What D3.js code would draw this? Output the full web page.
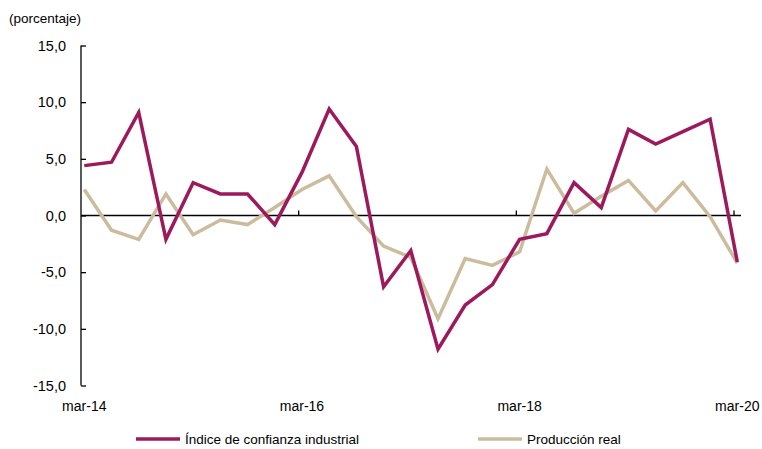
<!DOCTYPE html>
<html>
<head>
<meta charset="utf-8">
<script src="https://cdn.jsdelivr.net/npm/d3@7"></script>
<style>
  body { margin: 0; background: #fff; }
  svg text { font-family: "Liberation Sans", Arial, sans-serif; fill: #000; }
</style>
</head>
<body>
<div id="chart"></div>
<script>
// quarterly, mar-14 .. mar-20
var periods = ["mar-14","jun-14","sep-14","dic-14","mar-15","jun-15","sep-15","dic-15",
               "mar-16","jun-16","sep-16","dic-16","mar-17","jun-17","sep-17","dic-17",
               "mar-18","jun-18","sep-18","dic-18","mar-19","jun-19","sep-19","dic-19","mar-20"];
var confianza = [4.4, 4.7, 9.1, -2.1, 2.9, 1.9, 1.9, -0.8,
                 3.8, 9.4, 6.1, -6.3, -3.1, -11.8, -7.9, -6.1,
                 -2.1, -1.6, 2.9, 0.7, 7.6, 6.3, 7.4, 8.5, -4.1];
var produccion = [2.3, -1.3, -2.1, 1.9, -1.7, -0.4, -0.8, 0.7,
                  2.3, 3.5, -0.1, -2.7, -3.7, -9.1, -3.8, -4.4,
                  -3.2, 4.1, 0.2, 1.7, 3.1, 0.4, 2.9, -0.1, -4.2];
var yTicks = [-15, -10, -5, 0, 5, 10, 15];
var xLabelIdx = [0, 8, 16, 24];
var seriesNames = ["Índice de confianza industrial", "Producción real"];
var colors = ["#9c1a5c", "#cbbc9e"];

var width = 762, height = 449;
var svg = d3.select("#chart").append("svg")
    .attr("width", width)
    .attr("height", height);

var x = d3.scaleLinear().domain([0, periods.length - 1]).range([84.3, 737.3]);
var y = d3.scaleLinear().domain([-15, 15]).range([385.5, 45.5]);
var axisX = 81;

// y axis, ticks pointing inwards
var gy = svg.append("g").attr("transform", "translate(" + axisX + ",0)")
  .call(d3.axisRight(y).tickValues(yTicks).tickSize(5).tickFormat(""));
gy.select(".domain").attr("d", "M0," + y(15) + "V" + y(-15)).attr("stroke", "#000").attr("stroke-width", 1.3);
gy.selectAll(".tick line").attr("stroke", "#000").attr("stroke-width", 1.3);

svg.append("g").selectAll("text").data(yTicks).join("text")
  .attr("x", 66)
  .attr("y", d => y(d) + 5)
  .attr("text-anchor", "end")
  .style("font-size", "14.5px")
  .text(d => d3.format(".1f")(d).replace(".", ",").replace("−", "-"));

svg.append("text")
  .attr("x", 9).attr("y", 23)
  .style("font-size", "13.5px")
  .text("(porcentaje)");

// zero line with category ticks
var step = x(1) - x(0);
svg.append("line")
  .attr("x1", axisX).attr("x2", 741)
  .attr("y1", y(0)).attr("y2", y(0))
  .attr("stroke", "#000").attr("stroke-width", 1.3);
svg.append("g").selectAll("line").data(xLabelIdx.slice(1)).join("line")
  .attr("x1", d => axisX + d * step).attr("x2", d => axisX + d * step)
  .attr("y1", y(0)).attr("y2", y(0) - 5)
  .attr("stroke", "#000").attr("stroke-width", 1.3);

svg.append("g").selectAll("text").data(xLabelIdx).join("text")
  .attr("x", d => x(d))
  .attr("y", 411)
  .attr("text-anchor", "middle")
  .style("font-size", "14px")
  .text(d => periods[d]);

// lines
var line = d3.line().x((d, i) => x(i)).y(d => y(d));
[produccion, confianza].forEach(function (s, k) {
  svg.append("path")
    .datum(s)
    .attr("fill", "none")
    .attr("stroke", k === 0 ? colors[1] : colors[0])
    .attr("stroke-width", 3.5)
    .attr("stroke-linejoin", "miter")
    .attr("d", line);
});

// legend
var legendX = [136, 478];
var lg = svg.append("g").selectAll("g").data(seriesNames).join("g")
  .attr("transform", (d, i) => "translate(" + legendX[i] + ",439)");
lg.append("line").attr("x1", 0).attr("x2", 44)
  .attr("stroke", (d, i) => colors[i]).attr("stroke-width", 3.5);
lg.append("text").attr("x", 49).attr("y", 5)
  .style("font-size", "13.5px")
  .text(d => d);
</script>
</body>
</html>
